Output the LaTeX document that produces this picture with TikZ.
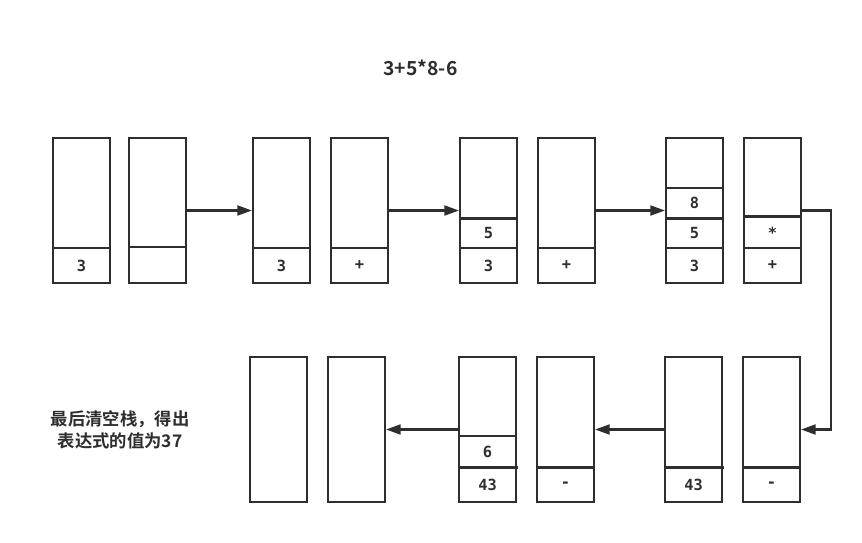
\documentclass[tikz,border=0pt]{standalone}
\usepackage{fontspec}
\usetikzlibrary{arrows.meta}
\newfontfamily\cjk{Noto Sans CJK SC}[BoldFont={Noto Sans CJK SC Bold}]
\newfontfamily\cellfont{DejaVu Sans Mono}[BoldFont={DejaVu Sans Mono Bold}]
\definecolor{ink}{HTML}{2E2E2E}
\tikzset{
  stack/.style={draw=ink, line width=1.6pt, minimum width=42.75pt, minimum height=108.75pt, inner sep=0pt},
  cell/.style={text=ink, font=\cellfont\bfseries\fontsize{11.5}{13}\selectfont, inner sep=0pt},
  divider/.style={draw=ink, line width=1.6pt},
  conn/.style={draw=ink, line width=1.6pt, -{Triangle[length=11pt,width=7.5pt]}},
  title/.style={text=ink, font=\cjk\bfseries\fontsize{14.5}{16}\selectfont},
  note/.style={text=ink, font=\cjk\bfseries\fontsize{13}{16.5}\selectfont, align=center}
}
\begin{document}
\begin{tikzpicture}[x=0.75pt, y=-0.75pt]
\useasboundingbox (0,0) rectangle (862,542);
\node[title] (t) at (420.5,68) {3+5*8-6};
% top row stacks
\node[stack] (b1) at (81.5,210.5) {};
\node[stack] (b2) at (157.5,210.5) {};
\node[stack] (b3) at (281.5,210.5) {};
\node[stack] (b4) at (359.5,210.5) {};
\node[stack] (b5) at (488.5,210.5) {};
\node[stack] (b6) at (566.5,210.5) {};
\node[stack] (b7) at (694.5,210.5) {};
\node[stack] (b8) at (772.5,210.5) {};
% bottom row stacks
\node[stack] (bA) at (278.5,429.5) {};
\node[stack] (bB) at (356.5,429.5) {};
\node[stack] (bC) at (487.5,429.5) {};
\node[stack] (bD) at (565.5,429.5) {};
\node[stack] (bE) at (693.5,429.5) {};
\node[stack] (bF) at (771.5,429.5) {};
% dividers top
\draw[divider] (53,248) -- (110,248);
\draw[divider] (129,247) -- (186,247);
\draw[divider] (253,248) -- (310,248);
\draw[divider] (331,248) -- (388,248);
\draw[divider] (460,218.5) -- (517,218.5);
\draw[divider] (460,248) -- (517,248);
\draw[divider] (538,248) -- (595,248);
\draw[divider] (666,188) -- (723,188);
\draw[divider] (666,218.5) -- (723,218.5);
\draw[divider] (666,248) -- (723,248);
\draw[divider] (744,216.5) -- (801,216.5);
\draw[divider] (744,248) -- (801,248);
% dividers bottom
\draw[divider] (459,436) -- (516,436);
\draw[divider] (459,467.5) -- (518,467.5);
\draw[divider] (537,467.5) -- (594,467.5);
\draw[divider] (665,467.5) -- (724,467.5);
\draw[divider] (743,467.5) -- (800,467.5);
% cell texts top
\node[cell] (c1) at (81.5,265.5) {3};
\node[cell] (c3) at (281.5,265.5) {3};
\node[cell] (c4) at (359.5,265.5) {+};
\node[cell] (c5a) at (488.5,233.5) {5};
\node[cell] (c5b) at (488.5,265.5) {3};
\node[cell] (c6) at (566.5,265.5) {+};
\node[cell] (c7a) at (694.5,203) {8};
\node[cell] (c7b) at (694.5,233.5) {5};
\node[cell] (c7c) at (694.5,265.5) {3};
\node[cell] (c8a) at (772.5,232.5) {*};
\node[cell] (c8b) at (772.5,265.5) {+};
% cell texts bottom
\node[cell] (cCa) at (487.5,452) {6};
\node[cell] (cCb) at (487.5,484.5) {43};
\node[cell] (cD) at (565.5,484.5) {-};
\node[cell] (cE) at (693.5,484.5) {43};
\node[cell] (cF) at (771.5,484.5) {-};
% connectors
\coordinate (turn1) at (831,210.5);
\coordinate (turn2) at (831,429.5);
\draw[conn] (b2.east) -- (b3.west);
\draw[conn] (b4.east) -- (b5.west);
\draw[conn] (b6.east) -- (b7.west);
\draw[conn] (b8.east) -- (turn1) -- (turn2) -- (bF.east);
\draw[conn] (bE.west) -- (bD.east);
\draw[conn] (bC.west) -- (bB.east);
% note
\node[note] (n) at (120,430) {最后清空栈，得出\\表达式的值为37};
\end{tikzpicture}
\end{document}
